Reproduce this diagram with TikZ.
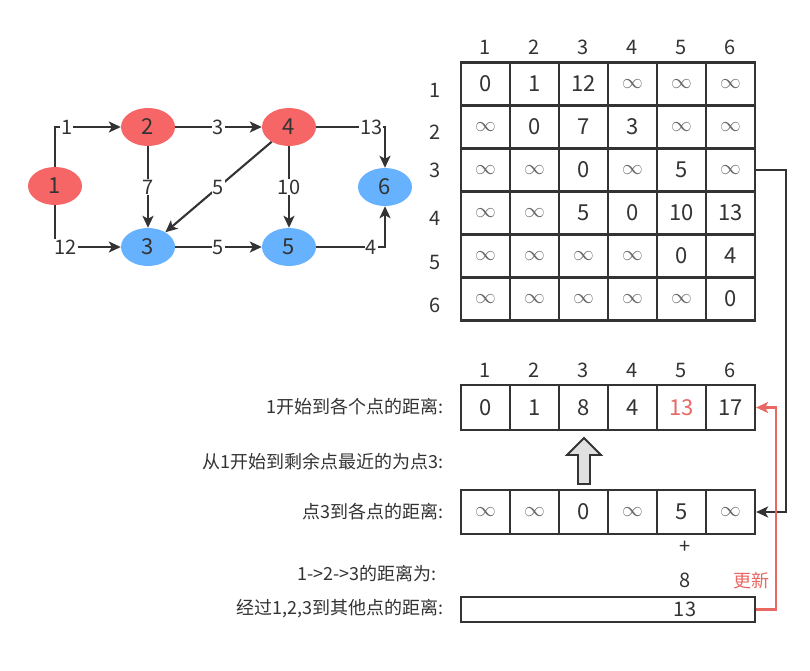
\documentclass[tikz,border=0pt]{standalone}
\usepackage{fontspec}
\setmainfont{Noto Sans CJK SC}
\usetikzlibrary{arrows.meta,shapes.geometric,positioning}
\definecolor{nodered}{RGB}{246,102,102}
\definecolor{nodeblue}{RGB}{102,178,255}
\definecolor{ink}{RGB}{51,51,51}
\definecolor{upd}{RGB}{232,104,100}
\newcommand{\fsz}[1]{\fontsize{#1}{#1}\selectfont}
\newcommand{\infc}{{\fsz{20}\color{ink!75}$\infty$}}

\begin{document}
\begin{tikzpicture}[
  x=1pt, y=-1pt,
  vertex/.style={ellipse, minimum width=54pt, minimum height=38pt, font=\fsz{22}, text=ink},
  redv/.style={vertex, fill=nodered},
  bluev/.style={vertex, fill=nodeblue},
  edge/.style={-{Stealth[length=12pt,width=11pt,inset=3pt]}, draw=ink, line width=2.1pt},
  w/.style={fill=white, inner sep=1pt, font=\fsz{20}, text=ink},
  cell/.style={draw=ink, line width=2.2pt, minimum width=49pt, minimum height=43pt, inner sep=0pt, font=\fsz{22}, text=ink},
  lbl/.style={font=\fsz{20}, text=ink},
  txt/.style={font=\fsz{18}, text=ink, anchor=east}
]
\fill[white] (0,0) rectangle (810,670);

% graph
\node[redv] (v1) at (55,186) {1};
\node[redv] (v2) at (148,127) {2};
\node[redv] (v4) at (289,127) {4};
\node[bluev] (v3) at (148,247) {3};
\node[bluev] (v5) at (289,247) {5};
\node[bluev] (v6) at (385,187) {6};

\draw[edge] (v1.north) |- node[w,pos=0.59] {1} (v2.west);
\draw[edge] (v1.south) |- node[w,pos=0.58] {12} (v3.west);
\draw[edge] (v2) -- node[w] {3} (v4);
\draw[edge] (v2) -- node[w] {7} (v3);
\draw[edge] (v4) -- node[w] {5} (v3);
\draw[edge] (v4) -- node[w] {10} (v5);
\draw[edge] (v3) -- node[w] {5} (v5);
\draw[edge] (v4.east) -| node[w,pos=0.40] {13} (v6.north);
\draw[edge] (v5.east) -| node[w,pos=0.40] {4} (v6.south);

% adjacency matrix
\foreach \c in {1,...,6}
  \node[lbl] (c\c) at (485.5+49*\c-49,47) {\c};
\foreach \r/\y in {1/90,2/132,3/170,4/218,5/262,6/305}
  \node[lbl] (r\r) at (435,\y) {\r};
\foreach \row [count=\r] in {{0,1,12,\infc,\infc,\infc},{\infc,0,7,3,\infc,\infc},
    {\infc,\infc,0,\infc,5,\infc},{\infc,\infc,5,0,10,13},
    {\infc,\infc,\infc,\infc,0,4},{\infc,\infc,\infc,\infc,\infc,0}}
  \foreach \v [count=\c] in \row
    \node[cell] (m\r\c) at (485.5+49*\c-49,84+43*\r-43) {\v};

% distances from 1
\foreach \c in {1,...,6}
  \node[lbl] (e\c) at (485.5+49*\c-49,370) {\c};
\foreach \v [count=\c] in {0,1,8,4,{\color{upd}13},17}
  \node[cell, minimum height=45pt] (d\c) at (485.5+49*\c-49,407.5) {\v};
\node[txt] (t1) at (447,407) {1开始到各个点的距离:};

\node[txt] (t2) at (447,462) {从1开始到剩余点最近的为点3:};
\draw[ink, line width=1.8pt, fill=black!12]
  (578,484) -- (578,455) -- (567,455) -- (584,438) -- (601,455)
  -- (590,455) -- (590,484) -- cycle;

% distances from 3
\foreach \v [count=\c] in {\infc,\infc,0,\infc,5,\infc}
  \node[cell, minimum height=44pt] (p\c) at (485.5+49*\c-49,512) {\v};
\node[txt] (t3) at (447,512) {点3到各点的距离:};

\draw[edge] (m36.east) -- ++(30,0) |- (p6.east);

% update
\node[lbl] (plus) at (685,547) {+};
\node[lbl] (eight) at (685,580) {8};
\node[txt] (t4) at (440,574) {1->2->3的距离为:};
\node[cell, minimum width=294pt, minimum height=25pt] (sum) at (608,609.5) {};
\node[lbl] (thirteen) at (685,609) {13};
\node[txt] (t5) at (447,609) {经过1,2,3到其他点的距离:};
\node[lbl, font=\fsz{18}, text=upd] (new) at (751,581) {更新};

\draw[edge, draw=upd] (sum.east) -- ++(20,0) |- (d6.east);
\end{tikzpicture}
\end{document}
